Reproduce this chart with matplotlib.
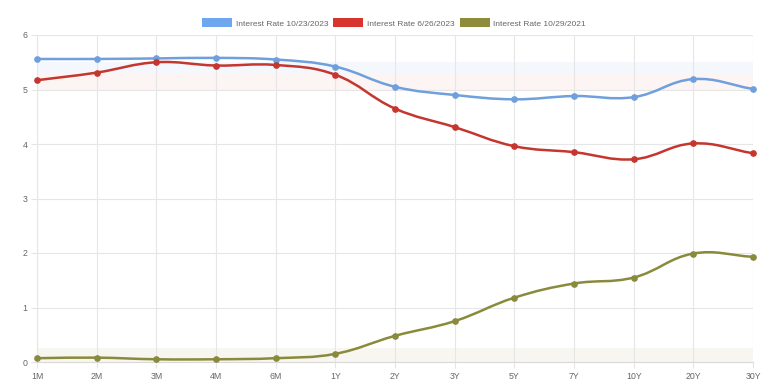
import numpy as np
import matplotlib
matplotlib.use("Agg")
import matplotlib.pyplot as plt
from matplotlib.path import Path
from matplotlib.patches import PathPatch, Patch

# tenors on the x axis
tenors = ['1M', '2M', '3M', '4M', '6M', '1Y', '2Y', '3Y', '5Y', '7Y', '10Y', '20Y', '30Y']

# yield curves (%)
rate_2023_10_23 = [5.56, 5.56, 5.57, 5.58, 5.55, 5.42, 5.05, 4.90, 4.82, 4.88, 4.86, 5.19, 5.01]
rate_2023_06_26 = [5.17, 5.31, 5.50, 5.44, 5.45, 5.27, 4.65, 4.31, 3.96, 3.85, 3.72, 4.01, 3.83]
rate_2021_10_29 = [0.07, 0.08, 0.05, 0.05, 0.07, 0.15, 0.48, 0.75, 1.18, 1.44, 1.55, 1.99, 1.93]

labels = ['Interest Rate 10/23/2023', 'Interest Rate 6/26/2023', 'Interest Rate 10/29/2021']
line_colors = ['#6f9fdc', '#c4362e', '#8a8a3c']
box_colors = ['#6ea6ef', '#d8352f', '#8e8c3a']

plt.rcParams['font.family'] = ['Liberation Sans', 'DejaVu Sans']


def smooth_path(xs, ys, sx, sy, tension=0.4):
    """cubic bezier path through the points, control points like chart.js splineCurve"""
    xs = np.asarray(xs, float)
    ys = np.asarray(ys, float)
    n = len(xs)
    prev_c, next_c = [], []
    for i in range(n):
        p0 = (xs[max(i - 1, 0)], ys[max(i - 1, 0)])
        p1 = (xs[i], ys[i])
        p2 = (xs[min(i + 1, n - 1)], ys[min(i + 1, n - 1)])
        d01 = np.hypot((p1[0] - p0[0]) * sx, (p1[1] - p0[1]) * sy)
        d12 = np.hypot((p2[0] - p1[0]) * sx, (p2[1] - p1[1]) * sy)
        tot = d01 + d12
        s01 = d01 / tot if tot else 0
        s12 = d12 / tot if tot else 0
        fa, fb = tension * s01, tension * s12
        prev_c.append((p1[0] - fa * (p2[0] - p0[0]), p1[1] - fa * (p2[1] - p0[1])))
        next_c.append((p1[0] + fb * (p2[0] - p0[0]), p1[1] + fb * (p2[1] - p0[1])))
    verts = [(xs[0], ys[0])]
    codes = [Path.MOVETO]
    for i in range(n - 1):
        verts += [next_c[i], prev_c[i + 1], (xs[i + 1], ys[i + 1])]
        codes += [Path.CURVE4] * 3
    return Path(verts, codes)


fig = plt.figure(figsize=(7.78, 3.9), dpi=100)
ax = fig.add_axes([37 / 778, 1 - 362 / 390, (753 - 37) / 778, (362 - 35) / 390])

x = np.arange(len(tenors))

# faint fill bands
ax.axhspan(5.3, 5.5, color='#6ea6ef', alpha=0.07, lw=0, zorder=0)
ax.axhspan(5.0, 5.3, color='#d8352f', alpha=0.05, lw=0, zorder=0)
ax.axhspan(0.0, 0.25, color='#8e8c3a', alpha=0.07, lw=0, zorder=0)

# pixel scale, used for the spline distances
sx = (753 - 37) / (len(tenors) - 1)
sy = (362 - 35) / 6.0

for ys, c in zip([rate_2023_10_23, rate_2023_06_26, rate_2021_10_29], line_colors):
    ax.add_patch(PathPatch(smooth_path(x, ys, sx, sy), fill=False, edgecolor=c,
                           lw=1.8, capstyle='round', joinstyle='round', zorder=3,
                           clip_on=False))
    ax.plot(x, ys, 'o', color=c, ms=3.8, zorder=4, clip_on=False)

ax.set_xlim(0, len(tenors) - 1)
ax.set_ylim(0, 6)
ax.set_xticks(x)
ax.set_xticklabels(tenors)
ax.set_yticks(range(0, 7))

ax.grid(True, color='#e6e6e6', lw=0.8)
ax.set_axisbelow(True)
for s in ax.spines.values():
    s.set_visible(False)
ax.spines['bottom'].set_visible(True)
ax.spines['bottom'].set_color('#d9d9d9')
ax.spines['left'].set_visible(True)
ax.spines['left'].set_color('#e6e6e6')
ax.tick_params(axis='both', colors='#e6e6e6', labelcolor='#666666', labelsize=6.3,
               length=4, width=0.8, pad=3)

handles = [Patch(facecolor=c, edgecolor='none') for c in box_colors]
fig.legend(handles, labels, loc='center', bbox_to_anchor=(394 / 778, 1 - 23 / 390), ncol=3,
           frameon=False, fontsize=6.0, labelcolor='#666666', handlelength=3.6,
           handleheight=1.2, handletextpad=0.45, columnspacing=0.6)

fig.savefig('out.png', dpi=100)
